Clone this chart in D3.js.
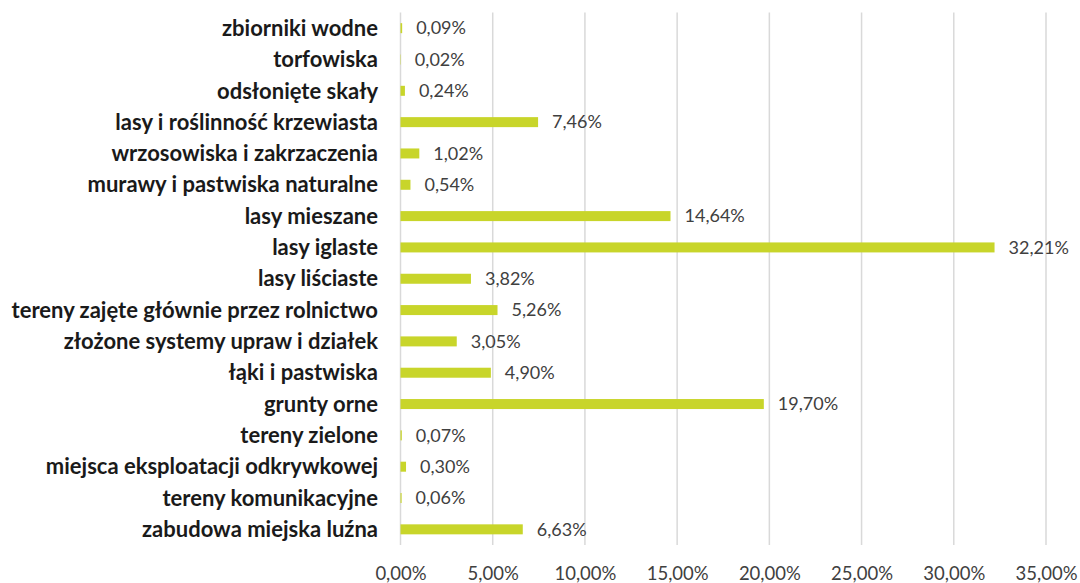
<!DOCTYPE html>
<html lang="pl">
<head>
<meta charset="UTF-8">
<title>Pokrycie terenu</title>
<script src="https://d3js.org/d3.v7.min.js"></script>
<style>
    body { margin: 0; background: #fff; }
    .cat { font-family: Lato, sans-serif; font-weight: bold; font-size: 22px; fill: #1a1a1a; }
    .val { font-family: Lato, sans-serif; font-size: 18px; fill: #404040; }
    .tick text { font-family: Lato, sans-serif; font-size: 18.5px; fill: #404040; }
</style>
</head>
<body>
<svg width="1080" height="583"></svg>
<script>
    const width = 1080;
    const height = 583;

    // categories, top to bottom
    const categories = [
        "zbiorniki wodne",
        "torfowiska",
        "odsłonięte skały",
        "lasy i roślinność krzewiasta",
        "wrzosowiska i zakrzaczenia",
        "murawy i pastwiska naturalne",
        "lasy mieszane",
        "lasy iglaste",
        "lasy liściaste",
        "tereny zajęte głównie przez rolnictwo",
        "złożone systemy upraw i działek",
        "łąki i pastwiska",
        "grunty orne",
        "tereny zielone",
        "miejsca eksploatacji odkrywkowej",
        "tereny komunikacyjne",
        "zabudowa miejska luźna"
    ];
    const values = [0.09, 0.02, 0.24, 7.46, 1.02, 0.54, 14.64, 32.21, 3.82, 5.26, 3.05, 4.90, 19.70, 0.07, 0.30, 0.06, 6.63];
    const xTicks = [0, 5, 10, 15, 20, 25, 30, 35];

    const fmt = v => v.toFixed(2).replace(".", ",") + "%";

    const svg = d3.select("svg");

    const x = d3.scaleLinear().domain([0, 35]).range([400.5, 1046]);
    const y = d3.scaleBand().domain(categories).range([12.5, 545]);
    const barH = 10;

    // vertical gridlines
    svg.append("g")
        .selectAll("line")
        .data(xTicks)
        .join("line")
        .attr("x1", d => x(d)).attr("x2", d => x(d))
        .attr("y1", 12.5).attr("y2", 545)
        .attr("stroke", "#d9d9d9")
        .attr("stroke-width", 1.5);

    // x axis labels
    const xAxis = svg.append("g")
        .attr("transform", "translate(0,561)")
        .call(d3.axisBottom(x).tickValues(xTicks).tickFormat(fmt).tickSize(0).tickPadding(6));
    xAxis.select(".domain").remove();

    // bars
    svg.append("g")
        .selectAll("rect")
        .data(values)
        .join("rect")
        .attr("x", x(0))
        .attr("y", (d, i) => y(categories[i]) + y.bandwidth() / 2 - barH / 2)
        .attr("width", d => x(d) - x(0))
        .attr("height", barH)
        .attr("fill", "#c8d52a");

    // value labels
    svg.append("g")
        .selectAll("text")
        .data(values)
        .join("text")
        .attr("class", "val")
        .attr("x", d => x(d) + 14)
        .attr("y", (d, i) => y(categories[i]) + y.bandwidth() / 2)
        .attr("dy", "0.35em")
        .text(fmt);

    // category labels
    svg.append("g")
        .selectAll("text")
        .data(categories)
        .join("text")
        .attr("class", "cat")
        .attr("x", 378)
        .attr("y", d => y(d) + y.bandwidth() / 2)
        .attr("dy", "0.35em")
        .attr("text-anchor", "end")
        .text(d => d);
</script>
</body>
</html>
